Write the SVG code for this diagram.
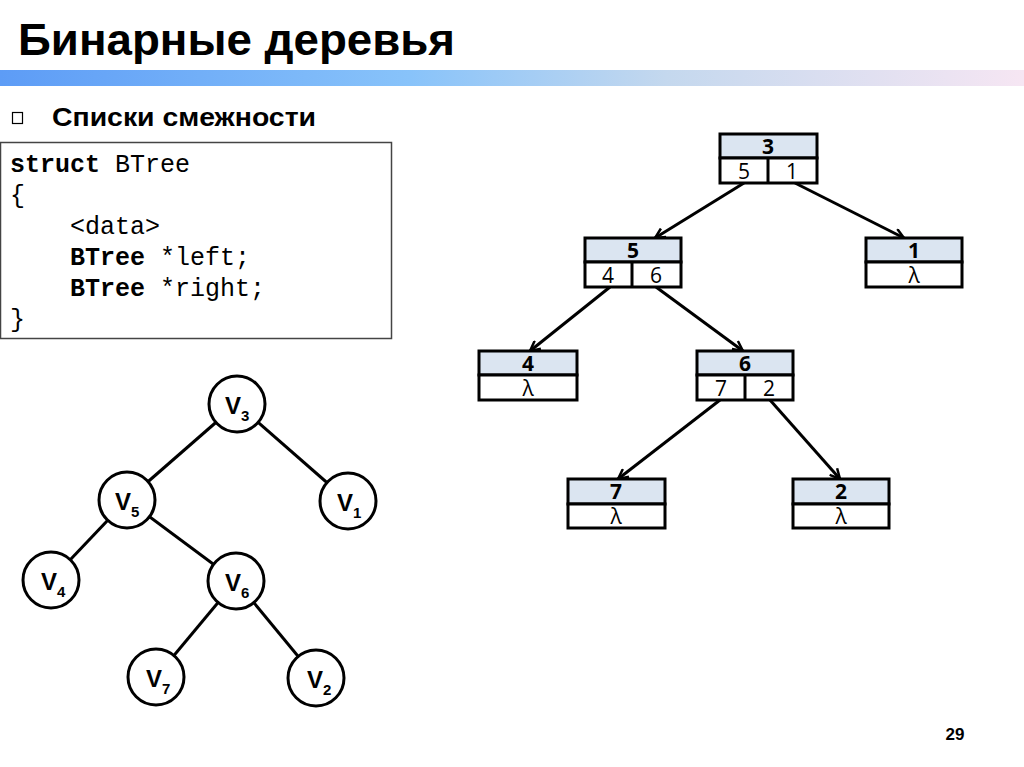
<svg xmlns="http://www.w3.org/2000/svg" width="1024" height="767" viewBox="0 0 1024 767">
<defs>
<linearGradient id="bar" x1="0" y1="0" x2="1" y2="0">
<stop offset="0" stop-color="#5d9cf6"/>
<stop offset="0.4" stop-color="#88c3fa"/>
<stop offset="0.65" stop-color="#c4d8ee"/>
<stop offset="1" stop-color="#f6e6f3"/>
</linearGradient>
<marker id="arr" viewBox="0 0 12 12" refX="11" refY="6" markerWidth="12" markerHeight="12" markerUnits="userSpaceOnUse" orient="auto">
<path d="M1,1 L11,6 L1,11" fill="none" stroke="#000" stroke-width="2.5"/>
</marker>
<style>
.box{fill:#fff;stroke:#000;stroke-width:3}
.hdr{fill:#dbe5f1;stroke:#000;stroke-width:3}
.div{stroke:#000;stroke-width:3}
.bt{font-family:"Open Sans","Noto Sans",sans-serif;font-size:21px;font-weight:bold;text-anchor:middle}
.ct{font-family:"Open Sans","Noto Sans",sans-serif;font-size:21px;text-anchor:middle}
.conn{stroke:#000;stroke-width:3;fill:none}
.circ{fill:#fff;stroke:#000;stroke-width:3}
.vl{font-family:"Liberation Sans",Arial,sans-serif;font-size:24px;font-weight:bold}
.vs{font-size:15px}
.code{font-family:"Liberation Mono","Courier New",monospace;font-size:25px}
</style>
</defs>
<rect width="1024" height="767" fill="#fff"/>
<text x="18" y="55" font-family="Liberation Sans, Arial, sans-serif" font-size="44" font-weight="bold" textLength="437" lengthAdjust="spacingAndGlyphs">Бинарные деревья</text>
<rect x="0" y="70" width="1024" height="16" fill="url(#bar)"/>
<rect x="12.5" y="112.5" width="10" height="11" fill="none" stroke="#000" stroke-width="1.2"/>
<text x="52" y="126" font-family="Liberation Sans, Arial, sans-serif" font-size="26" font-weight="bold" textLength="264" lengthAdjust="spacingAndGlyphs">Списки смежности</text>
<g id="code">
<rect x="0.5" y="142.5" width="391" height="196" fill="#fff" stroke="#444" stroke-width="1.5"/>
<text class="code" x="10" y="172"><tspan font-weight="bold">struct</tspan> BTree</text>
<text class="code" x="10" y="203">{</text>
<text class="code" x="70" y="234">&lt;data&gt;</text>
<text class="code" x="70" y="265"><tspan font-weight="bold">BTree</tspan> *left;</text>
<text class="code" x="70" y="296"><tspan font-weight="bold">BTree</tspan> *right;</text>
<text class="code" x="10" y="327">}</text>
</g>
<g id="connectors">
<line class="conn" x1="744" y1="183" x2="655" y2="238" marker-end="url(#arr)"/>
<line class="conn" x1="795" y1="183" x2="904" y2="238" marker-end="url(#arr)"/>
<line class="conn" x1="610" y1="287" x2="530" y2="351" marker-end="url(#arr)"/>
<line class="conn" x1="656" y1="287" x2="743" y2="351" marker-end="url(#arr)"/>
<line class="conn" x1="720" y1="400" x2="618" y2="479" marker-end="url(#arr)"/>
<line class="conn" x1="770" y1="400" x2="840" y2="479" marker-end="url(#arr)"/>
<line class="conn" x1="237" y1="404" x2="127" y2="500"/>
<line class="conn" x1="237" y1="404" x2="348" y2="501"/>
<line class="conn" x1="127" y1="500" x2="51" y2="580"/>
<line class="conn" x1="127" y1="500" x2="236" y2="581"/>
<line class="conn" x1="236" y1="581" x2="156" y2="677"/>
<line class="conn" x1="236" y1="581" x2="316" y2="678"/>
</g>
<g id="n3">
<rect class="hdr" x="720" y="134" width="97" height="24"/>
<rect class="box" x="720" y="158" width="97" height="25"/>
<line class="div" x1="768" y1="158" x2="768" y2="183"/>
<text class="bt" x="768" y="154">3</text>
<text class="ct" x="744" y="179">5</text>
<text class="ct" x="792" y="179">1</text>
</g>
<g id="n1">
<rect class="hdr" x="866" y="238" width="96" height="24"/>
<rect class="box" x="866" y="262" width="96" height="25"/>
<text class="bt" x="914" y="258">1</text>
<text class="ct" x="914" y="283">λ</text>
</g>
<g id="n5">
<rect class="hdr" x="585" y="238" width="96" height="24"/>
<rect class="box" x="585" y="262" width="96" height="25"/>
<line class="div" x1="632" y1="262" x2="632" y2="287"/>
<text class="bt" x="633" y="258">5</text>
<text class="ct" x="608" y="283">4</text>
<text class="ct" x="656" y="283">6</text>
</g>
<g id="n4">
<rect class="hdr" x="479" y="351" width="98" height="24"/>
<rect class="box" x="479" y="375" width="98" height="25"/>
<text class="bt" x="528" y="371">4</text>
<text class="ct" x="528" y="396">λ</text>
</g>
<g id="n6">
<rect class="hdr" x="697" y="351" width="96" height="24"/>
<rect class="box" x="697" y="375" width="96" height="25"/>
<line class="div" x1="745" y1="375" x2="745" y2="400"/>
<text class="bt" x="745" y="371">6</text>
<text class="ct" x="721" y="396">7</text>
<text class="ct" x="769" y="396">2</text>
</g>
<g id="n7">
<rect class="hdr" x="568" y="479" width="97" height="25"/>
<rect class="box" x="568" y="504" width="97" height="24"/>
<text class="bt" x="616" y="499">7</text>
<text class="ct" x="616" y="524">λ</text>
</g>
<g id="n2">
<rect class="hdr" x="793" y="479" width="96" height="25"/>
<rect class="box" x="793" y="504" width="96" height="24"/>
<text class="bt" x="841" y="499">2</text>
<text class="ct" x="841" y="524">λ</text>
</g>
<g id="v3"><circle class="circ" cx="237" cy="404" r="28"/><text class="vl" x="225" y="414">V<tspan class="vs" dy="7">3</tspan></text></g>
<g id="v5"><circle class="circ" cx="127" cy="500" r="28"/><text class="vl" x="115" y="510">V<tspan class="vs" dy="7">5</tspan></text></g>
<g id="v1"><circle class="circ" cx="348" cy="501" r="28"/><text class="vl" x="337" y="511">V<tspan class="vs" dy="7">1</tspan></text></g>
<g id="v4"><circle class="circ" cx="51" cy="580" r="28"/><text class="vl" x="41" y="590">V<tspan class="vs" dy="7">4</tspan></text></g>
<g id="v6"><circle class="circ" cx="236" cy="581" r="28"/><text class="vl" x="225" y="591">V<tspan class="vs" dy="7">6</tspan></text></g>
<g id="v7"><circle class="circ" cx="156" cy="677" r="28"/><text class="vl" x="146" y="687">V<tspan class="vs" dy="7">7</tspan></text></g>
<g id="v2"><circle class="circ" cx="316" cy="678" r="28"/><text class="vl" x="307" y="688">V<tspan class="vs" dy="7">2</tspan></text></g>
<text x="955" y="740" font-family="Liberation Sans, Arial, sans-serif" font-size="17" font-weight="bold" text-anchor="middle">29</text>
</svg>
